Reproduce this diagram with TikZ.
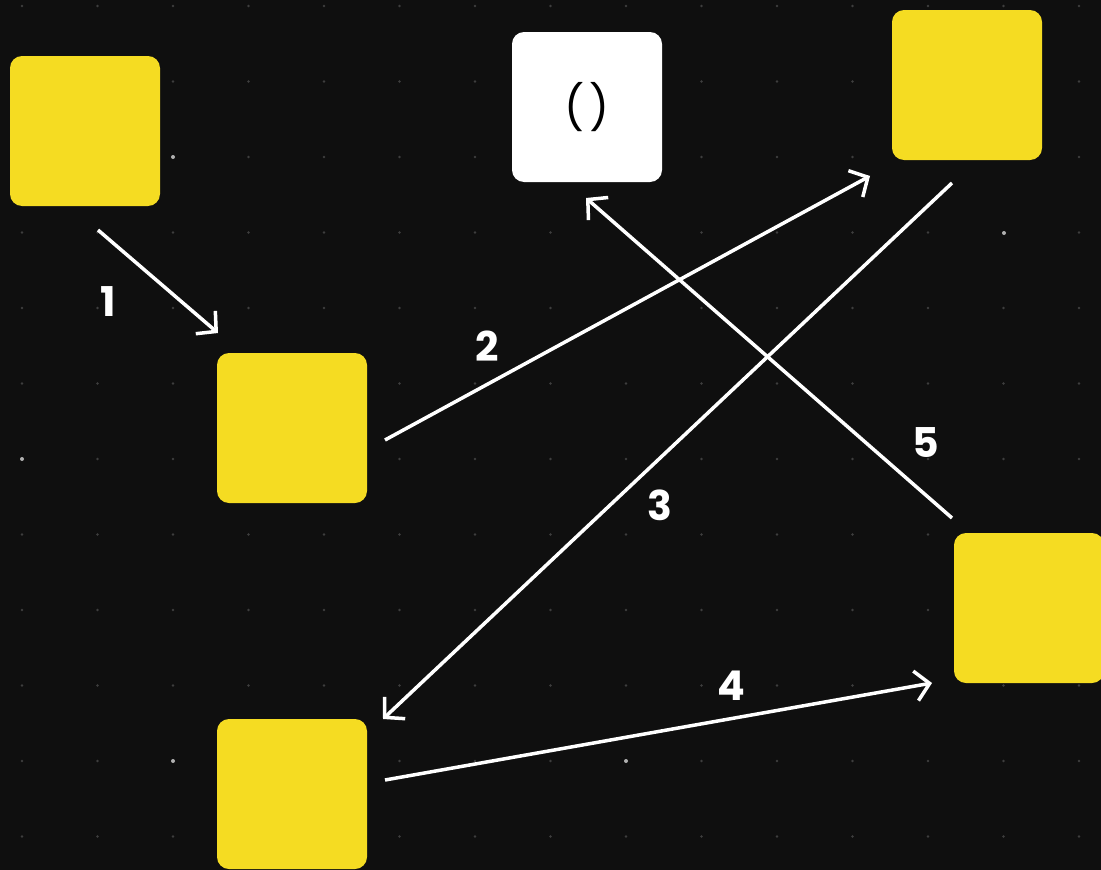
\documentclass[tikz,border=0pt]{standalone}
\usepackage{fontspec}
\setmainfont{Poppins}
\usetikzlibrary{arrows.meta}
\definecolor{bg}{HTML}{0F0F0F}
\definecolor{yel}{HTML}{F5DC22}
\definecolor{dotc}{HTML}{3E3E3E}
\definecolor{dotb}{HTML}{B0B0B0}
\begin{document}
\begin{tikzpicture}[x=1pt,y=-1pt,
  box/.style={rectangle, rounded corners=12pt, minimum size=150pt, inner sep=0pt, draw=none},
  ybox/.style={box, fill=yel},
  wbox/.style={box, fill=white},
  conn/.style={draw=white, line width=3.5pt, -{Straight Barb[length=14pt,width=30pt,line width=3.5pt]}},
  lbl/.style={text=white, inner sep=0pt, font=\fontsize{41}{41}\selectfont\bfseries},
  dot/.style={fill=dotc},
  bdot/.style={fill=dotb}
]
\useasboundingbox (0,0) rectangle (1101,870);
\fill[bg] (0,0) rectangle (1101,870);
% dot grid
\foreach \i in {0,...,14}{
  \foreach \j in {0,...,11}{
    \fill[dot] ({22+75.5*\i},{6+75.5*\j}) circle (1.3pt);
  }
}
\fill[bdot] (173,157) circle (2pt);
\fill[bdot] (626,761) circle (2pt);
\fill[bdot] (1004,233) circle (2pt);
\fill[bdot] (173,761) circle (2pt);
\fill[bdot] (22,459) circle (2pt);

% boxes
\node[ybox] (A) at (85,131) {};
\node[wbox] (W) at (587,107) {\fontsize{44}{44}\selectfont(\hspace{6pt})};
\node[ybox] (TR) at (967,85) {};
\node[ybox] (ML) at (292,428) {};
\node[ybox] (BL) at (292,794) {};
\node[ybox] (R) at (1029,608) {};

% connector end points
\coordinate (a1) at (98,230);
\coordinate (b1) at (218,333);
\coordinate (a2) at (385,440);
\coordinate (b2) at (870,176);
\coordinate (a3) at (952,183);
\coordinate (b3) at (383,719);
\coordinate (a4) at (385,780);
\coordinate (b4) at (932,683);
\coordinate (a5) at (952,518);
\coordinate (b5) at (586,198);

\draw[conn] (a1) -- (b1);
\draw[conn] (a2) -- (b2);
\draw[conn] (a3) -- (b3);
\draw[conn] (a4) -- (b4);
\draw[conn] (a5) -- (b5);

% labels
\node[lbl] (l1) at (108,302) {1};
\node[lbl] (l2) at (487,346) {2};
\node[lbl] (l3) at (660,505) {3};
\node[lbl] (l4) at (731,686) {4};
\node[lbl] (l5) at (926,443) {5};
\end{tikzpicture}
\end{document}
